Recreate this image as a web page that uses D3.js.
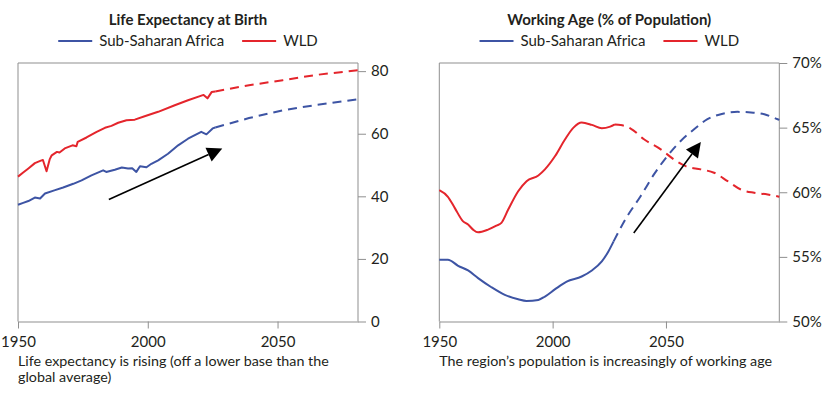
<!DOCTYPE html>
<html>
<head>
<meta charset="utf-8">
<script src="https://cdn.jsdelivr.net/npm/d3@7"></script>
<style>
  body { margin: 0; background: #fff; }
  svg text { font-family: Lato, "Open Sans", sans-serif; fill: #231f20; }
</style>
</head>
<body>
<svg id="chart"></svg>
<script>
// ---- data ----
var seriesNames = ["Sub-Saharan Africa", "WLD"];

// life expectancy (years), actuals then projection
var lifeSSAYears = [1950, 1952, 1954, 1956.5, 1958.5, 1960.4, 1964, 1967.4, 1971.3, 1974.5, 1978.3, 1982.8, 1984, 1987.3, 1990, 1992.4, 1994, 1995.6, 1997, 1999.5, 2001.4, 2004, 2007.8, 2011.7, 2015.5, 2020.6, 2022.6, 2025, 2026];
var lifeSSA      = [37.3, 37.9, 38.5, 39.6, 39.3, 40.9, 41.9, 42.8, 44.0, 45.1, 46.7, 48.3, 47.8, 48.5, 49.2, 48.9, 49.0, 47.8, 49.6, 49.3, 50.4, 51.5, 53.6, 56.3, 58.4, 60.6, 59.8, 61.7, 62.0];
var lifeWLDYears = [1950, 1952, 1954, 1956.5, 1958.8, 1959.6, 1961, 1962.2, 1963, 1965, 1966, 1968, 1971, 1972.5, 1973, 1976.4, 1980.3, 1983.5, 1986, 1988.6, 1991.8, 1995, 1998.8, 2004, 2010.4, 2015.5, 2021.5, 2023, 2024.6, 2026];
var lifeWLD      = [46.3, 47.6, 48.9, 50.6, 51.4, 51.6, 48.0, 51.8, 53.1, 54.2, 54.0, 55.3, 56.3, 56.0, 57.4, 58.8, 60.6, 61.9, 62.5, 63.5, 64.3, 64.5, 65.6, 67.0, 69.1, 70.7, 72.4, 71.3, 73.3, 73.5];
var lifeProjYears = [2026, 2039, 2052, 2065, 2081];
var lifeSSAProj   = [62.0, 65.0, 67.5, 69.2, 71.0];
var lifeWLDProj   = [73.5, 75.5, 77.1, 78.8, 80.3];

// working age share of population (%)
var workSSAYears = [1950, 1953.8, 1958.3, 1962.7, 1967.1, 1973, 1978.9, 1984.8, 1988.5, 1993.7, 1996.6, 2001.1, 2006.2, 2012.8, 2017.3, 2021.7, 2024.6, 2026.9];
var workSSA      = [54.78, 54.78, 54.31, 53.95, 53.36, 52.65, 52.06, 51.72, 51.59, 51.67, 51.93, 52.5, 53.09, 53.48, 53.95, 54.65, 55.42, 56.2];
var workSSAProjYears = [2026.9, 2032.9, 2038.8, 2044.7, 2050.6, 2056.5, 2062.4, 2068.3, 2074.2, 2081.6, 2087.5, 2093.4, 2098.5, 2100];
var workSSAProj      = [56.2, 58.14, 59.69, 61.38, 62.8, 63.97, 64.87, 65.65, 66.04, 66.22, 66.17, 66.04, 65.7, 65.6];
var workWLDYears = [1950, 1953.8, 1956.8, 1960.5, 1962.7, 1964.9, 1967.1, 1971.5, 1975.2, 1977.4, 1980.4, 1984.8, 1988.5, 1993.7, 1996.6, 2001.1, 2005.5, 2009.2, 2012.8, 2017.3, 2021.7, 2025.4, 2027.5];
var workWLD      = [60.16, 59.65, 58.79, 57.75, 57.5, 57.11, 56.9, 57.11, 57.42, 57.63, 58.66, 60.08, 60.86, 61.3, 61.77, 62.8, 64.1, 65.0, 65.39, 65.21, 64.95, 65.08, 65.25];
var workWLDProjYears = [2027.5, 2030, 2034.4, 2040.3, 2047.7, 2053.5, 2058.7, 2065.4, 2071.2, 2077.2, 2083, 2088.9, 2094.9, 2100];
var workWLDProj      = [65.25, 65.2, 64.93, 64.1, 63.32, 62.54, 62.02, 61.77, 61.51, 60.86, 60.21, 59.96, 59.83, 59.65];

// annotation arrows [year, value] from -> to
var lifeArrow = [[1985, 39.0], [2028.7, 55.3]];
var workArrow = [[2035.8, 56.85], [2065.4, 63.89]];

var lifeTicksX = [1950, 2000, 2050];
var lifeTicksY = [0, 20, 40, 60, 80];
var workTicksX = [1950, 2000, 2050];
var workTicksY = [50, 55, 60, 65, 70];

var titles = ["Life Expectancy at Birth", "Working Age (% of Population)"];
var lifeCaption = ["Life expectancy is rising (off a lower base than the", "global average)"];
var workCaption = ["The region\u2019s population is increasingly of working age"];

// ---- drawing ----
var width = 840, height = 398;
var colors = ["#3d54a4", "#e4252c"];
var axisColor = "#8f8f8f";
var plotTop = 63, plotBottom = 321.5;

var svg = d3.select("#chart").attr("width", width).attr("height", height);

function zip(xs, ys) { return xs.map(function(d, i) { return [d, ys[i]]; }); }

function drawPanel(p) {
  var g = svg.append("g");
  var x = d3.scaleLinear().domain(p.xDomain).range([p.left, p.right]);
  var y = d3.scaleLinear().domain(p.yDomain).range([plotBottom, plotTop]);

  // frame: top + left edges
  g.append("path")
    .attr("d", "M" + p.right + "," + plotTop + "H" + p.left + "V" + plotBottom)
    .attr("fill", "none").attr("stroke", axisColor).attr("stroke-width", 1);

  var xAxis = g.append("g").attr("transform", "translate(0," + plotBottom + ")")
    .call(d3.axisBottom(x).tickValues(p.xTicks).tickSize(7).tickSizeOuter(0).tickPadding(8).tickFormat(d3.format("d")));
  var yAxis = g.append("g").attr("transform", "translate(" + p.right + ",0)")
    .call(d3.axisRight(y).tickValues(p.yTicks).tickSize(8).tickSizeOuter(0).tickPadding(5).tickFormat(p.yFormat));
  [xAxis, yAxis].forEach(function(a) {
    a.selectAll("path, line").attr("stroke", axisColor);
    a.selectAll("text").attr("font-size", 15).attr("fill", "#333");
  });
  yAxis.select(".domain").attr("d", "M0," + plotTop + "V" + plotBottom);

  var line = d3.line().x(function(d) { return x(d[0]); }).y(function(d) { return y(d[1]); }).curve(p.curve);

  p.series.forEach(function(s, i) {
    g.append("path").datum(s.hist)
      .attr("d", line).attr("fill", "none")
      .attr("stroke", colors[i]).attr("stroke-width", 2).attr("stroke-linejoin", "round");
    g.append("path").datum(s.proj)
      .attr("d", line).attr("fill", "none")
      .attr("stroke", colors[i]).attr("stroke-width", 2).attr("stroke-dasharray", "9,6");
  });

  // arrow
  var a0 = [x(p.arrow[0][0]), y(p.arrow[0][1])], a1 = [x(p.arrow[1][0]), y(p.arrow[1][1])];
  var dx = a1[0] - a0[0], dy = a1[1] - a0[1], len = Math.sqrt(dx * dx + dy * dy);
  var ux = dx / len, uy = dy / len, hl = 15, hw = 7.5;
  var bx = a1[0] - ux * hl, by = a1[1] - uy * hl;
  g.append("line").attr("x1", a0[0]).attr("y1", a0[1]).attr("x2", bx).attr("y2", by)
    .attr("stroke", "#000").attr("stroke-width", 1.6);
  g.append("path")
    .attr("d", "M" + a1[0] + "," + a1[1] + "L" + (bx - uy * hw) + "," + (by + ux * hw) + "L" + (bx + uy * hw) + "," + (by - ux * hw) + "Z")
    .attr("fill", "#000");

  // title + legend
  var cx = (p.left + p.right) / 2;
  g.append("text").attr("x", cx).attr("y", 25).attr("text-anchor", "middle")
    .attr("font-size", 15).attr("font-weight", "bold").text(p.title);

  var leg = g.append("g");
  var lx = 0;
  seriesNames.forEach(function(name, i) {
    leg.append("line").attr("x1", lx).attr("x2", lx + 34).attr("y1", 41).attr("y2", 41)
      .attr("stroke", colors[i]).attr("stroke-width", 2);
    var t = leg.append("text").attr("x", lx + 41).attr("y", 46).attr("font-size", 15).text(name);
    lx += 41 + t.node().getComputedTextLength() + 18;
  });
  var legW = lx - 18;
  leg.attr("transform", "translate(" + (cx - legW / 2) + ",0)");

  // caption
  p.caption.forEach(function(c, i) {
    g.append("text").attr("x", p.left).attr("y", 365.5 + i * 16.5).attr("font-size", 14.3).text(c);
  });
}

drawPanel({
  left: 18, right: 358, xDomain: [1950, 2081], yDomain: [0, 82.6],
  xTicks: lifeTicksX, yTicks: lifeTicksY, yFormat: d3.format("d"),
  curve: d3.curveLinear, title: titles[0], caption: lifeCaption, arrow: lifeArrow,
  series: [
    { hist: zip(lifeSSAYears, lifeSSA), proj: zip(lifeProjYears, lifeSSAProj) },
    { hist: zip(lifeWLDYears, lifeWLD), proj: zip(lifeProjYears, lifeWLDProj) }
  ]
});

drawPanel({
  left: 439.3, right: 779.3, xDomain: [1950, 2100], yDomain: [50, 70],
  xTicks: workTicksX, yTicks: workTicksY, yFormat: function(d) { return d + "%"; },
  curve: d3.curveMonotoneX, title: titles[1], caption: workCaption, arrow: workArrow,
  series: [
    { hist: zip(workSSAYears, workSSA), proj: zip(workSSAProjYears, workSSAProj) },
    { hist: zip(workWLDYears, workWLD), proj: zip(workWLDProjYears, workWLDProj) }
  ]
});
</script>
</body>
</html>
